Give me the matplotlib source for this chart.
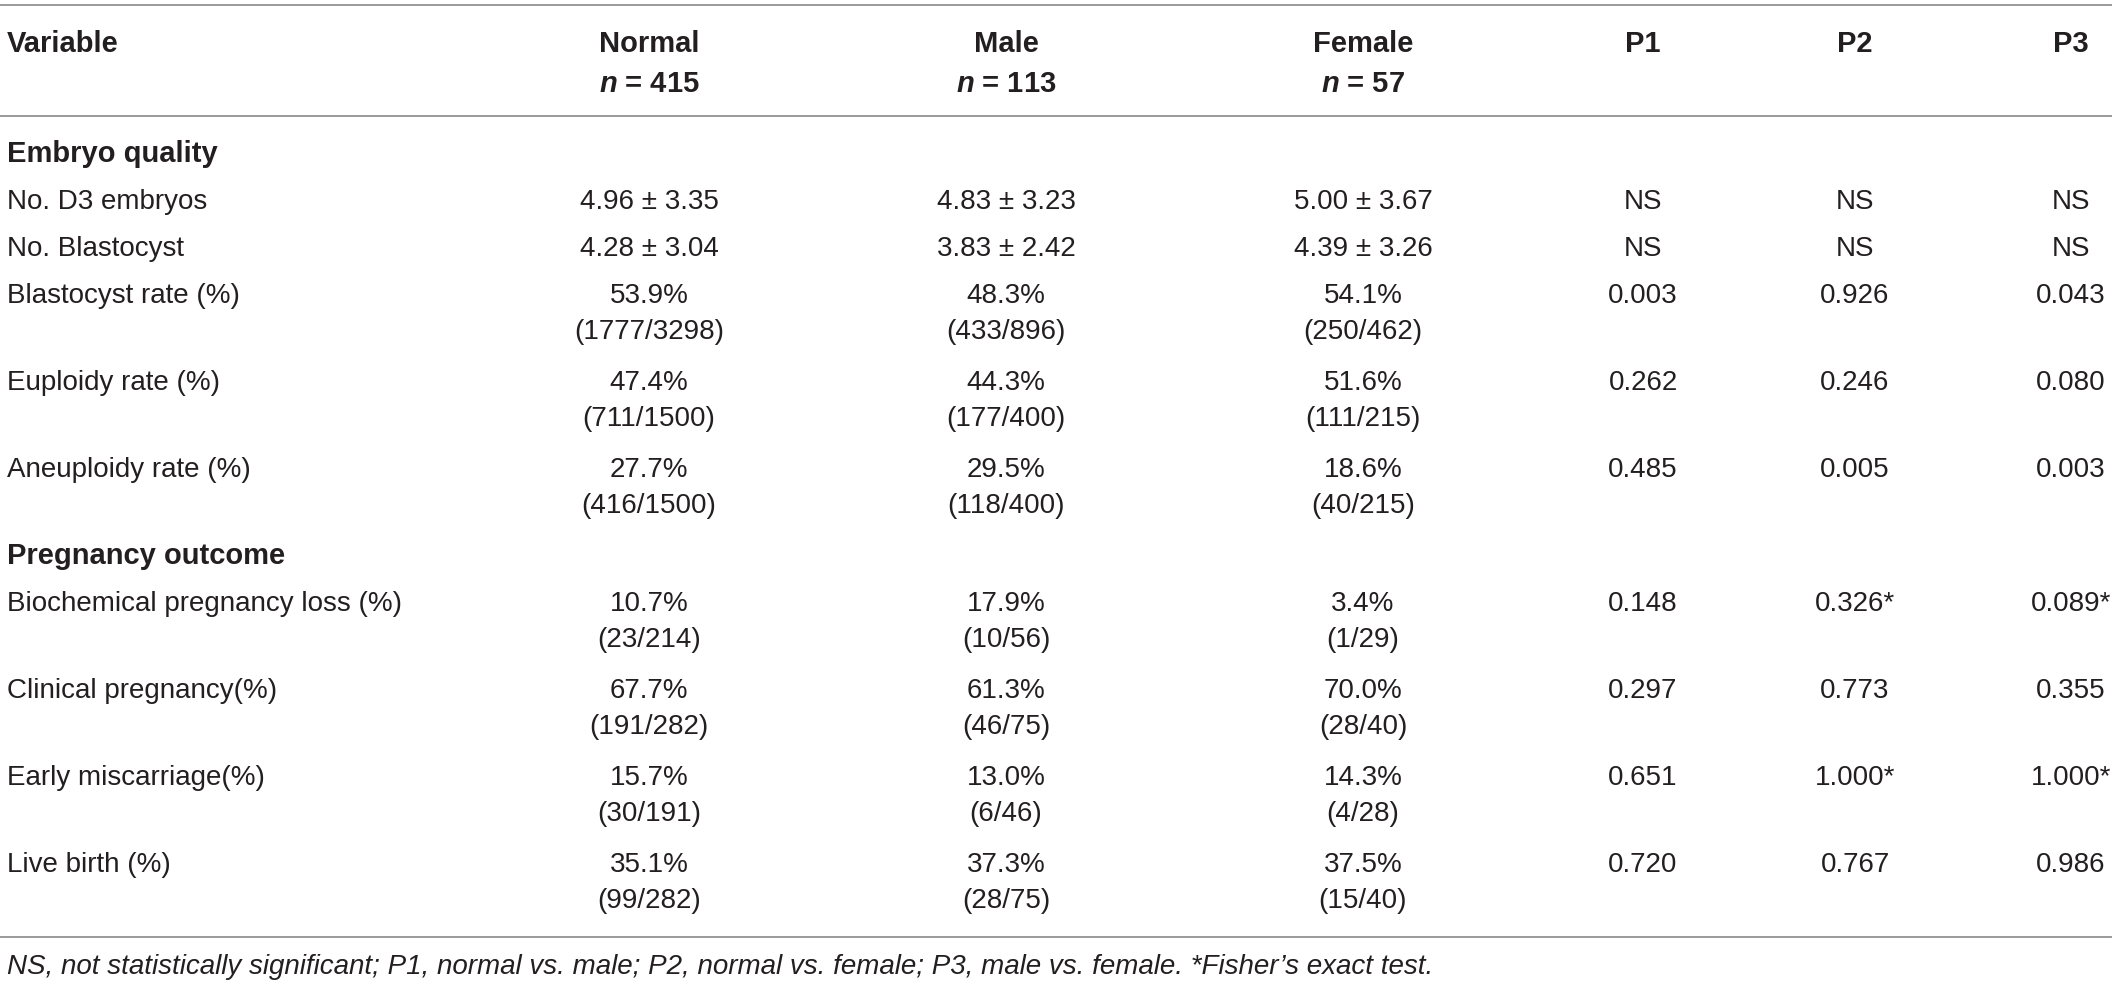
import matplotlib
matplotlib.use("Agg")
import matplotlib.pyplot as plt

# table content
columns = ["Normal", "Male", "Female", "P1", "P2", "P3"]
group_n = ["415", "113", "57"]
sections = ["Embryo quality", "Pregnancy outcome"]
variables = [
    "No. D3 embryos", "No. Blastocyst", "Blastocyst rate (%)",
    "Euploidy rate (%)", "Aneuploidy rate (%)",
    "Biochemical pregnancy loss (%)", "Clinical pregnancy(%)",
    "Early miscarriage(%)", "Live birth (%)",
]
section_of = [0, 0, 0, 0, 0, 1, 1, 1, 1]
normal = ["4.96 ± 3.35", "4.28 ± 3.04", "53.9%\n(1777/3298)", "47.4%\n(711/1500)",
          "27.7%\n(416/1500)", "10.7%\n(23/214)", "67.7%\n(191/282)",
          "15.7%\n(30/191)", "35.1%\n(99/282)"]
male = ["4.83 ± 3.23", "3.83 ± 2.42", "48.3%\n(433/896)", "44.3%\n(177/400)",
        "29.5%\n(118/400)", "17.9%\n(10/56)", "61.3%\n(46/75)",
        "13.0%\n(6/46)", "37.3%\n(28/75)"]
female = ["5.00 ± 3.67", "4.39 ± 3.26", "54.1%\n(250/462)", "51.6%\n(111/215)",
          "18.6%\n(40/215)", "3.4%\n(1/29)", "70.0%\n(28/40)",
          "14.3%\n(4/28)", "37.5%\n(15/40)"]
p1 = ["NS", "NS", "0.003", "0.262", "0.485", "0.148", "0.297", "0.651", "0.720"]
p2 = ["NS", "NS", "0.926", "0.246", "0.005", "0.326*", "0.773", "1.000*", "0.767"]
p3 = ["NS", "NS", "0.043", "0.080", "0.003", "0.089*", "0.355", "1.000*", "0.986"]
footnote = ("NS, not statistically significant; P1, normal vs. male; P2, normal vs. female; "
            "P3, male vs. female. *Fisher\u2019s exact test.")

FONT = "Liberation Sans"
TXT = "#231f20"
LINE = "#9a9a9a"
FS = 20
FS_BOLD = 21

plt.rcParams["font.family"] = FONT
plt.rcParams["mathtext.fontset"] = "custom"
plt.rcParams["mathtext.it"] = FONT + ":italic:bold"

W, H = 2118, 985
fig = plt.figure(figsize=(W / 100, H / 100), dpi=100)
ax = fig.add_axes([0, 0, 1, 1])
ax.set_xlim(0, W)
ax.set_ylim(H, 0)
ax.axis("off")

col_x = [649, 1006, 1363, 1643, 1855, 2071]
left_x = 7
cap = 10  # half cap height, to put baseline under a visual centre


def put(x, y, s, ha="center", size=FS, **kw):
    ax.text(x, y + cap, s, ha=ha, va="baseline", fontsize=size, color=TXT, **kw)


def hline(y):
    ax.plot([0, 2112], [y, y], color=LINE, lw=1.4, solid_capstyle="butt")


# header
hline(5)
put(left_x, 42, "Variable", ha="left", size=FS_BOLD, fontweight="bold")
for i, name in enumerate(columns):
    put(col_x[i], 42, name, size=FS_BOLD, fontweight="bold")
for i, n in enumerate(group_n):
    put(col_x[i], 82, "$n$ = " + n, size=FS_BOLD, fontweight="bold")
hline(116)

# body
y = 152
line_gap = 36
current = -1
for r, var in enumerate(variables):
    if section_of[r] != current:
        current = section_of[r]
        put(left_x, y, sections[current], ha="left", size=FS_BOLD, fontweight="bold")
        y += 47
    put(left_x, y, var, ha="left")
    cells = [normal[r], male[r], female[r], p1[r], p2[r], p3[r]]
    nlines = 1
    for c, cell in enumerate(cells):
        parts = cell.split("\n")
        nlines = max(nlines, len(parts))
        for k, part in enumerate(parts):
            put(col_x[c], y + k * line_gap, part)
    y += 47 if nlines == 1 else 87

hline(937)
ax.text(left_x, 965 + 9, footnote, ha="left", va="baseline", fontsize=20,
        color=TXT, style="italic")

fig.savefig("out.png", dpi=100)
